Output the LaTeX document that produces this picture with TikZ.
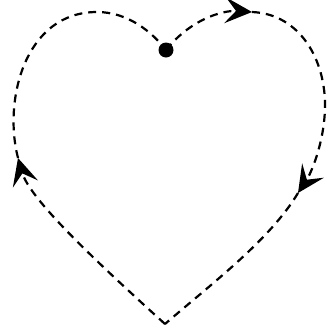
\documentclass[tikz,border=0pt]{standalone}
\usetikzlibrary{arrows.meta}
\begin{document}
\begin{tikzpicture}[x=1pt, y=-1pt]
% Dashed heart, traced clockwise from the start dot
\providecommand{\heartLineWidth}{2.2pt}
\providecommand{\heartDotRadius}{7.5pt}
\tikzset{
  heartline/.style={line width=\heartLineWidth, dash pattern=on 8pt off 6pt},
  heartarrow/.style={-{Stealth[length=27pt, width=26pt, inset=11pt]}}
}
\useasboundingbox (0,0) rectangle (330,333);
% Key points of the outline
\coordinate (start) at (166,50);
\coordinate (toparrow) at (252,12);
\coordinate (rightside) at (325,108);
\coordinate (rightarrow) at (298,193);
\coordinate (tip) at (165,324);
\coordinate (leftarrow) at (18,158);
\coordinate (lefttop) at (97,12);
% Right lobe
\draw[heartline, heartarrow] (start) .. controls (190,20) and (222,10) .. (toparrow);
\draw[heartline, heartarrow] (toparrow) .. controls (300,14) and (326,60) .. (rightside)
  .. controls (324,145) and (310,175) .. (rightarrow);
% Lower sides
\draw[heartline] (rightarrow) .. controls (270,240) and (210,285) .. (tip);
\draw[heartline, heartarrow] (tip) .. controls (100,265) and (30,200) .. (leftarrow);
% Left lobe back to the dot
\draw[heartline] (leftarrow) .. controls (3,100) and (25,12) .. (lefttop)
  .. controls (128,12) and (152,32) .. (start);
% Start dot
\fill (start) circle (\heartDotRadius);
\end{tikzpicture}
\end{document}
